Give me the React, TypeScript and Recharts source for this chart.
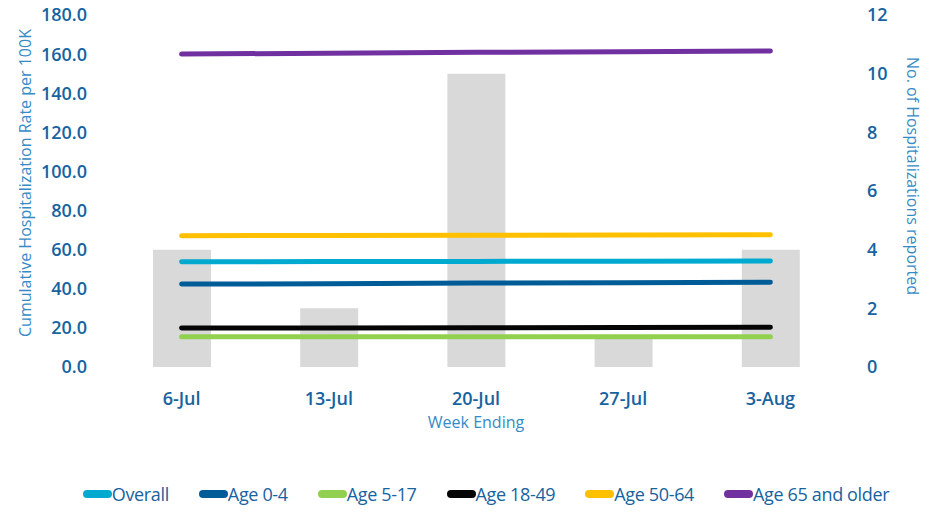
import { ComposedChart, Bar, Line, XAxis, YAxis, Legend } from 'recharts';

const weeks = ['6-Jul', '13-Jul', '20-Jul', '27-Jul', '3-Aug'];
const hospitalizations = [4, 2, 10, 1, 4];
const overall = [53.8, 53.9, 54.0, 54.1, 54.2];
const age0to4 = [42.4, 42.6, 42.9, 43.1, 43.3];
const age5to17 = [15.5, 15.5, 15.5, 15.5, 15.5];
const age18to49 = [19.9, 20.0, 20.1, 20.2, 20.3];
const age50to64 = [67.1, 67.3, 67.4, 67.5, 67.6];
const age65plus = [160.0, 160.5, 160.9, 161.2, 161.6];
const leftTicks = [0, 20, 40, 60, 80, 100, 120, 140, 160, 180];
const rightTicks = [0, 2, 4, 6, 8, 10, 12];

const series = [
  { key: 'overall', name: 'Overall', color: '#00A9CF', values: overall },
  { key: 'age0to4', name: 'Age 0-4', color: '#005C97', values: age0to4 },
  { key: 'age5to17', name: 'Age 5-17', color: '#92D050', values: age5to17 },
  { key: 'age18to49', name: 'Age 18-49', color: '#050505', values: age18to49 },
  { key: 'age50to64', name: 'Age 50-64', color: '#FFC000', values: age50to64 },
  { key: 'age65plus', name: 'Age 65 and older', color: '#7030A0', values: age65plus },
];

const data = weeks.map((week, i) => {
  const row: any = { week, count: hospitalizations[i] };
  series.forEach((s) => (row[s.key] = s.values[i]));
  return row;
});

const TICK = '#17639F';
const TITLE = '#358BC6';
const FONT = '"Open Sans", sans-serif';
const tickStyle = { fontSize: 18, fontWeight: 600, fill: TICK, fontFamily: FONT };

function SideTitle({ viewBox, value, side }: any) {
  const x = side === 'left' ? viewBox.x + 25 : viewBox.x + 69;
  const y = viewBox.y + viewBox.height / 2 + (side === 'left' ? -8 : -15);
  const angle = side === 'left' ? -90 : 90;
  return (
    <text
      x={x}
      y={y}
      transform={`rotate(${angle}, ${x}, ${y})`}
      textAnchor="middle"
      dominantBaseline="central"
      fontSize={16}
      fill={TITLE}
      fontFamily={FONT}
    >
      {value}
    </text>
  );
}

function LegendContent() {
  return (
    <div
      style={{
        height: 30,
        display: 'flex',
        alignItems: 'center',
        justifyContent: 'center',
        gap: 30,
        paddingLeft: 37,
        fontFamily: FONT,
        fontSize: 18,
        color: TICK,
        letterSpacing: -0.35,
      }}
    >
      {series.map((s) => (
        <span key={s.key} style={{ display: 'flex', alignItems: 'center' }}>
          <span
            style={{ width: 29, height: 8, borderRadius: 4, background: s.color, display: 'inline-block' }}
          />
          <span>{s.name}</span>
        </span>
      ))}
    </div>
  );
}

export default function App() {
  return (
    <div style={{ position: 'fixed', left: 0, top: 0, width: 935, height: 514, background: '#fff' }}>
      <ComposedChart
        width={935}
        height={514}
        data={data}
        margin={{ top: 15, right: 0, left: 0, bottom: 5 }}
      >
        <XAxis
          dataKey="week"
          axisLine={false}
          tickLine={false}
          tickSize={0}
          tickMargin={25}
          height={112}
          tick={tickStyle}
          label={{ value: 'Week Ending', position: 'insideTop', offset: 50, fontSize: 16, fill: TITLE, fontFamily: FONT }}
        />
        <YAxis
          yAxisId="left"
          width={108}
          domain={[0, 180]}
          ticks={leftTicks}
          axisLine={false}
          tickLine={false}
          tickSize={0}
          tickMargin={21}
          tick={tickStyle}
          tickFormatter={(v: number) => v.toFixed(1)}
          label={<SideTitle value="Cumulative Hospitalization Rate per 100K" side="left" />}
        />
        <YAxis
          yAxisId="right"
          orientation="right"
          width={91}
          domain={[0, 12]}
          ticks={rightTicks}
          axisLine={false}
          tickLine={false}
          tickSize={0}
          tickMargin={8}
          tick={{ ...tickStyle, dx: 15 }}
          label={<SideTitle value="No. of Hospitalizations reported" side="right" />}
        />
        <Legend verticalAlign="bottom" content={<LegendContent />} />
        <Bar
          yAxisId="right"
          dataKey="count"
          name="Hospitalizations"
          fill="#D9D9D9"
          barSize={58}
          isAnimationActive={false}
          legendType="none"
        />
        {series.map((s) => (
          <Line
            key={s.key}
            yAxisId="left"
            type="linear"
            dataKey={s.key}
            name={s.name}
            stroke={s.color}
            strokeWidth={5}
            strokeLinecap="round"
            dot={false}
            activeDot={false}
            isAnimationActive={false}
          />
        ))}
      </ComposedChart>
    </div>
  );
}
